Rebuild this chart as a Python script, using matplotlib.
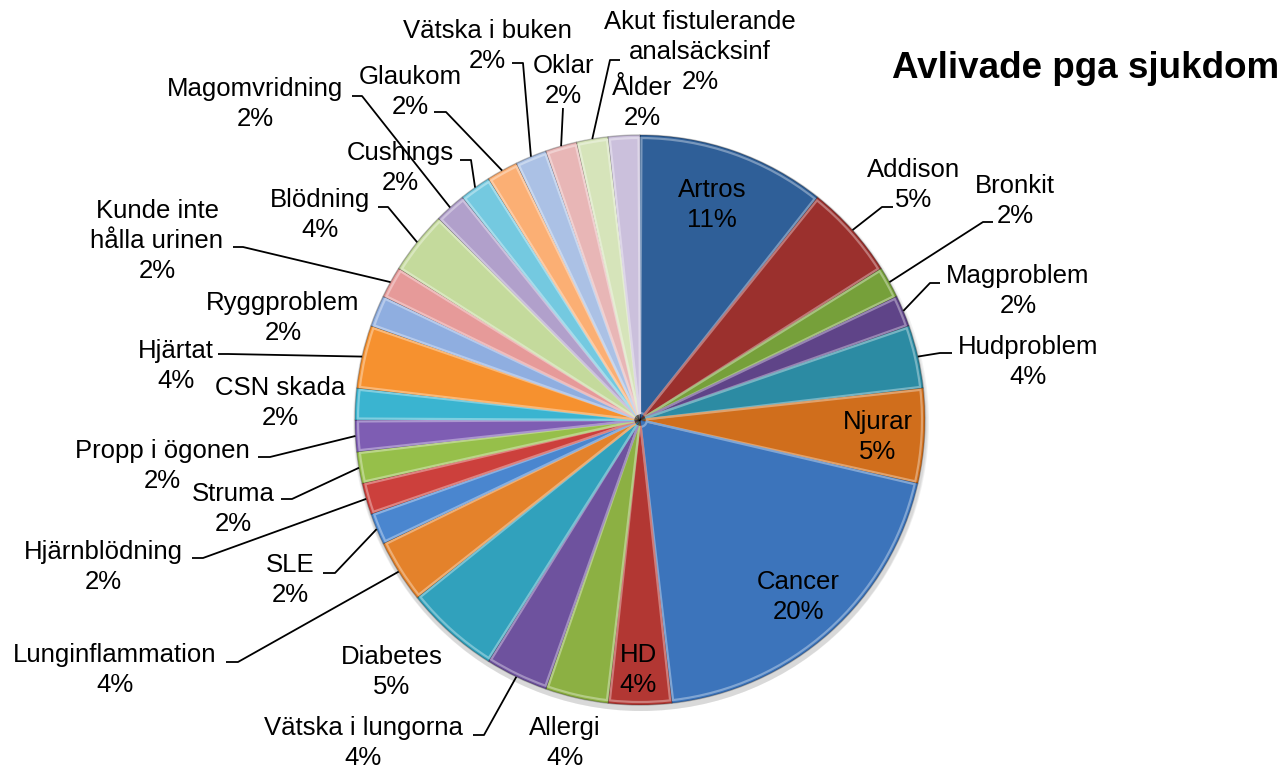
import matplotlib.pyplot as plt
import matplotlib.colors as mcolors
from matplotlib.patches import Circle, Wedge
import numpy as np

# Avlivade hundar per sjukdom (antal, totalt 56)
diseases = ['Artros', 'Addison', 'Bronkit', 'Magproblem', 'Hudproblem', 'Njurar',
            'Cancer', 'HD', 'Allergi', 'Vätska i lungorna', 'Diabetes', 'Lunginflammation',
            'SLE', 'Hjärnblödning', 'Struma', 'Propp i ögonen', 'CSN skada', 'Hjärtat',
            'Ryggproblem', 'Kunde inte hålla urinen', 'Blödning', 'Magomvridning',
            'Cushings', 'Glaukom', 'Vätska i buken', 'Oklar',
            'Akut fistulerande analsäcksinf', 'Ålder']
counts = [6, 3, 1, 1, 2, 3,
          11, 2, 2, 2, 3, 2,
          1, 1, 1, 1, 1, 2,
          1, 1, 2, 1,
          1, 1, 1, 1,
          1, 1]
colors = ['#2F5F98', '#9B302D', '#76A03A', '#5F4488', '#2C8BA3', '#D06E1C',
          '#3C74BB', '#B23733', '#8CB043', '#6E529E', '#31A1BC', '#E4822B',
          '#4A86CF', '#CC403C', '#96BF4A', '#7E5DB3', '#3AB4D0', '#F6912F',
          '#8FAEE0', '#E69A99', '#C4DA9C', '#B1A0CB', '#74C9E0', '#FBAF74',
          '#ABC1E5', '#E8B6B6', '#D6E4BA', '#CBC0DC']

wrapped = {'Kunde inte hålla urinen': 'Kunde inte\nhålla urinen',
           'Akut fistulerande analsäcksinf': 'Akut fistulerande\nanalsäcksinf'}

# label layout in picture pixels (x, y from top): text centre, leader elbow, leader end
layout = {
    'Artros': (712, 205, None),
    'Addison': (914, 185, ((882, 207), (893, 207))),
    'Bronkit': (1015, 201, ((983, 222), (993, 222))),
    'Magproblem': (1018, 291, ((930, 283), (940, 283))),
    'Hudproblem': (1028, 362, ((940, 353), (952, 353))),
    'Njurar': (878, 437, None),
    'Cancer': (798, 597, None),
    'HD': (638, 670, None),
    'Allergi': (565, 743, None),
    'Vätska i lungorna': (363, 743, ((484, 735), (473, 735))),
    'Diabetes': (392, 672, None),
    'Lunginflammation': (115, 670, ((238, 662), (226, 662))),
    'SLE': (290, 580, ((335, 573), (323, 573))),
    'Hjärnblödning': (103, 567, ((203, 558), (192, 558))),
    'Struma': (233, 509, ((292, 499), (281, 499))),
    'Propp i ögonen': (162, 466, ((270, 457), (258, 457))),
    'CSN skada': (280, 403, None),
    'Hjärtat': (176, 366, ((228, 354), (218, 354))),
    'Ryggproblem': (283, 318, None),
    'Kunde inte hålla urinen': (157, 241, ((243, 247), (233, 247))),
    'Blödning': (320, 215, ((388, 207), (378, 207))),
    'Magomvridning': (255, 104, ((362, 96), (352, 96))),
    'Cushings': (400, 168, ((471, 160), (460, 160))),
    'Glaukom': (410, 92, ((446, 112), (434, 112))),
    'Vätska i buken': (487, 46, ((523, 63), (512, 63))),
    'Oklar': (563, 81, ((563, 108), (563, 108))),
    'Akut fistulerande analsäcksinf': (700, 52, ((610, 60), (620, 60))),
    'Ålder': (642, 103, None),
}

plt.rcParams['font.family'] = ['Liberation Sans', 'DejaVu Sans']

W, H = 1286, 767
fig = plt.figure(figsize=(12.86, 7.67), dpi=100)
ax = fig.add_axes([0, 0, 1, 1])

cx, cy, R = 640, H - 420, 285


def tint(c, f):
    rgb = np.array(mcolors.to_rgb(c))
    return tuple(rgb + (1 - rgb) * f)


# soft shadow under the pie
for k, a in enumerate([0.10, 0.10, 0.12]):
    ax.add_patch(Circle((cx + 1, cy - 3 - k), R + 3 - k, color='#808080', alpha=a,
                        lw=0, zorder=0))

wedges, _ = ax.pie(counts, colors=colors, startangle=90, counterclock=False,
                   center=(cx, cy), radius=R,
                   wedgeprops=dict(linewidth=1.0, edgecolor='#00000040'))
for w, c in zip(wedges, colors):
    w.set_zorder(2)
    # bevel-ish highlight just inside the edge
    ax.add_patch(Wedge((cx, cy), R - 3, w.theta1 + 0.3, w.theta2 - 0.3,
                       width=R - 10, facecolor='none',
                       edgecolor=tint(c, 0.35), lw=1.6, zorder=3))

total = sum(counts)
for w, name, n in zip(wedges, diseases, counts):
    tx, ty, line = layout[name]
    txt = f"{wrapped.get(name, name)}\n{round(100 * n / total)}%"
    ax.text(tx, H - ty, txt, ha='center', va='center', fontsize=18.5,
            linespacing=1.3, color='black', zorder=5)
    if line is not None:
        (ex, ey), (lx, ly) = line
        mid = np.deg2rad((w.theta1 + w.theta2) / 2)
        sx, sy = cx + R * np.cos(mid), cy + R * np.sin(mid)
        ax.plot([sx, ex, lx], [sy, H - ey, H - ly], color='black', lw=1.3,
                solid_capstyle='butt', zorder=4)

ax.text(1086, H - 68, 'Avlivade pga sjukdom', ha='center', va='center',
        fontsize=26.5, fontweight='bold')

ax.set_xlim(0, W)
ax.set_ylim(0, H)
ax.set_aspect('equal')
ax.axis('off')

fig.savefig('out.png', dpi=100)
